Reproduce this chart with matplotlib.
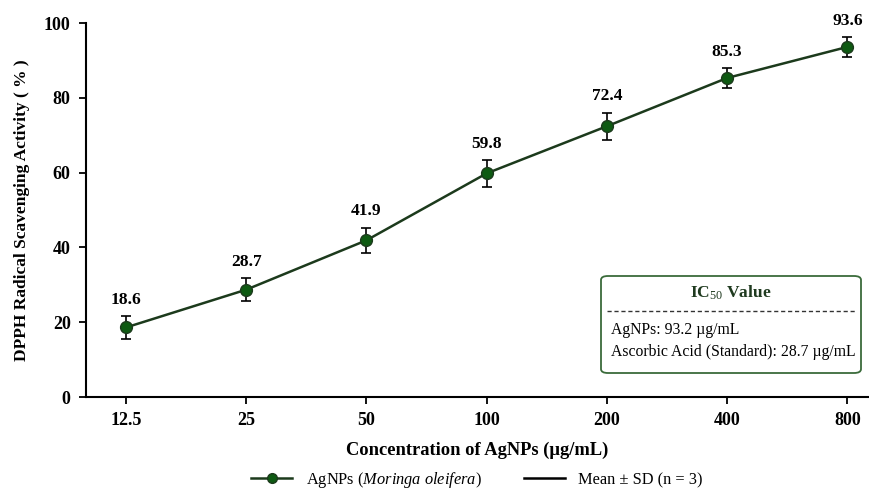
import numpy as np
import matplotlib
matplotlib.use("Agg")
from matplotlib import pyplot as plt
from matplotlib.patches import FancyBboxPatch
from matplotlib.lines import Line2D

plt.rcParams['font.family'] = ['Liberation Serif', 'DejaVu Serif']
plt.rcParams['mathtext.fontset'] = 'custom'
plt.rcParams['mathtext.rm'] = 'Liberation Serif'
plt.rcParams['mathtext.it'] = 'Liberation Serif:italic'
plt.rcParams['mathtext.bf'] = 'Liberation Serif:bold'

# data
conc_labels = ['12.5', '25', '50', '100', '200', '400', '800']
scavenging = [18.6, 28.7, 41.9, 59.8, 72.4, 85.3, 93.6]
sd = [3.1, 3.0, 3.4, 3.6, 3.6, 2.7, 2.7]
ic50_lines = ['AgNPs: 93.2 µg/mL', 'Ascorbic Acid (Standard): 28.7 µg/mL']

line_col = '#1c3a1c'
marker_col = '#0e5a12'
box_col = '#3a6b3a'

fig = plt.figure(figsize=(8.69, 4.91), dpi=100)
ax = fig.add_axes([86/869, 1 - 397/491, (869 - 86)/869, (397 - 23)/491])

x = np.arange(len(conc_labels))
ax.errorbar(x, scavenging, yerr=sd, fmt='none', ecolor='black', elinewidth=1.2,
            capsize=3.5, capthick=1.2, zorder=2)
ax.plot(x, scavenging, color=line_col, lw=1.8, marker='o', markersize=8.5,
        markerfacecolor=marker_col, markeredgecolor=line_col, zorder=3)

for xi, yi, ei in zip(x, scavenging, sd):
    ax.annotate(f'{yi:.1f}', (xi, yi + ei), xytext=(0, 6), textcoords='offset points',
                ha='center', va='bottom', fontsize=12.5, fontweight='bold')

ax.set_xlim(-0.333, 6.18)
ax.set_ylim(0, 100)
ax.set_xticks(x)
ax.set_xticklabels(conc_labels)
ax.set_yticks([0, 20, 40, 60, 80, 100])
ax.tick_params(axis='both', labelsize=13, width=1.3, length=5, pad=6)
for lab in ax.get_xticklabels() + ax.get_yticklabels():
    lab.set_fontweight('bold')
ax.spines['top'].set_visible(False)
ax.spines['right'].set_visible(False)
ax.spines['left'].set_linewidth(1.5)
ax.spines['bottom'].set_linewidth(1.5)

ax.set_xlabel('Concentration of AgNPs (µg/mL)', fontsize=13.3, fontweight='bold', labelpad=9)
ax.set_ylabel('DPPH Radical Scavenging Activity ( % )', fontsize=12.5, fontweight='bold', labelpad=10)

# IC50 box
box = FancyBboxPatch((601/869, 1 - 373/491), (861 - 601)/869, (373 - 276)/491,
                     boxstyle='round,pad=0,rounding_size=0.008', transform=fig.transFigure,
                     facecolor='white', edgecolor=box_col, lw=1.3, zorder=5)
fig.patches.append(box)
fig.text(731/869, 1 - 293/491, r'IC$_{50}$ Value', ha='center', va='center',
         fontsize=12.5, fontweight='bold', color='#1f3a1f', zorder=6)
fig.add_artist(Line2D([607/869, 857/869], [1 - 311/491, 1 - 311/491], transform=fig.transFigure,
                      color='#333333', lw=1, ls=(0, (3, 2)), zorder=6))
fig.text(611/869, 1 - 330/491, ic50_lines[0], ha='left', va='center', fontsize=11.3, zorder=6)
fig.text(611/869, 1 - 352/491, ic50_lines[1], ha='left', va='center', fontsize=11.3, zorder=6)

handles = [Line2D([], [], color=line_col, lw=1.8, marker='o', markersize=7,
                  markerfacecolor=marker_col, markeredgecolor=line_col),
           Line2D([], [], color='black', lw=1.8)]
labels = [r'AgNPs ($\mathit{Moringa\ oleifera}$)', 'Mean ± SD (n = 3)']
fig.legend(handles, labels, loc='center', bbox_to_anchor=(477/869, 1 - 480/491), ncol=2,
           frameon=False, fontsize=11.8, handlelength=2.5, columnspacing=2.6,
           borderpad=0.2)

fig.savefig('out.png', dpi=100)
